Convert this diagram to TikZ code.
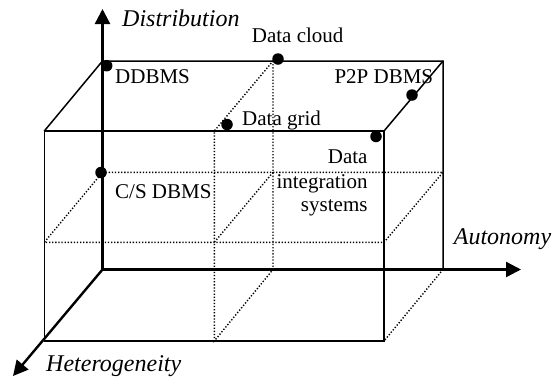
\documentclass[tikz,border=0pt]{standalone}
\usepackage{fontspec}
\setmainfont{Liberation Serif}
\usetikzlibrary{arrows.meta}
\begin{document}
\begin{tikzpicture}[x=1bp,y=-1bp,
  axis/.style={line width=2.4bp, -{Triangle[length=15bp,width=15bp]}},
  boxline/.style={line width=1.5bp, line join=miter},
  dotline/.style={line width=1.4bp, dash pattern=on 1.3bp off 1.8bp},
  pt/.style={circle, fill=black, inner sep=0pt, minimum size=11.5bp},
  lbl/.style={inner sep=0pt, font=\fontsize{21bp}{25bp}\selectfont},
  axlbl/.style={inner sep=0pt, font=\fontsize{24bp}{28bp}\selectfont\itshape}]
\useasboundingbox (0,0) rectangle (554,378);
% corners
\coordinate (O) at (102.5,269.5);
\coordinate (BTL) at (102.5,61);
\coordinate (BTR) at (443,61);
\coordinate (BBR) at (443,269.5);
\coordinate (FTL) at (44.3,131);
\coordinate (FTR) at (384,131);
\coordinate (FBR) at (384,341);
\coordinate (FBL) at (44.3,341);
\coordinate (BML) at (102.5,172.3);
\coordinate (BMR) at (443,172.3);
\coordinate (FML) at (44.3,242.3);
\coordinate (FMR) at (384,242.3);
\coordinate (BVT) at (273,61);
\coordinate (BVB) at (273,269.5);
\coordinate (BVM) at (273,172.3);
\coordinate (FVT) at (214.3,131);
\coordinate (FVB) at (214.3,341);
\coordinate (FVM) at (214.3,242.3);
\coordinate (DistTip) at (102.5,9);
\coordinate (AutTip) at (521,269.5);
\coordinate (HetTip) at (13,376);
% dotted grid
\draw[dotline] (BML) -- (BMR) -- (FMR) -- (FML) -- (BML);
\draw[dotline] (BVT) -- (BVB) -- (FVB) -- (FVT) -- (BVT);
\draw[dotline] (BVM) -- (FVM);
\draw[dotline] (BBR) -- (FBR);
% solid box
\draw[boxline] (FTL) rectangle (FBR);
\draw[boxline] (FTL) -- (BTL) -- (BTR) -- (BBR);
\draw[boxline] (BTR) -- (FTR);
% axes
\draw[axis] (O) -- (DistTip);
\draw[axis] (O) -- (AutTip);
\draw[axis] (O) -- (HetTip);
% dots
\node[pt] (dd) at (106.7,65.7) {};
\node[pt] (cs) at (101,172.5) {};
\node[pt] (dc) at (278,59) {};
\node[pt] (dg) at (227,124.5) {};
\node[pt] (pp) at (412,95) {};
\node[pt] (di) at (376,136.5) {};
% labels
\node[axlbl, anchor=base west] (lDist) at (122,26.7) {Distribution};
\node[axlbl, anchor=base west] (lAut) at (453.7,244) {Autonomy};
\node[axlbl, anchor=base west] (lHet) at (46,371.7) {Heterogeneity};
\node[lbl, anchor=base west] (lDC) at (251.7,42) {Data cloud};
\node[lbl, anchor=base west] (lDD) at (115,83.3) {DDBMS};
\node[lbl, anchor=base west] (lPP) at (334.3,83.3) {P2P DBMS};
\node[lbl, anchor=base west] (lDG) at (242,125) {Data grid};
\node[lbl, anchor=base west] (lCS) at (115,198.3) {C/S DBMS};
\node[lbl, anchor=base east] (lDI1) at (367.7,163.3) {Data};
\node[lbl, anchor=base east] (lDI2) at (367.7,188.3) {integration};
\node[lbl, anchor=base east] (lDI3) at (367.7,211.7) {systems};
\end{tikzpicture}
\end{document}
